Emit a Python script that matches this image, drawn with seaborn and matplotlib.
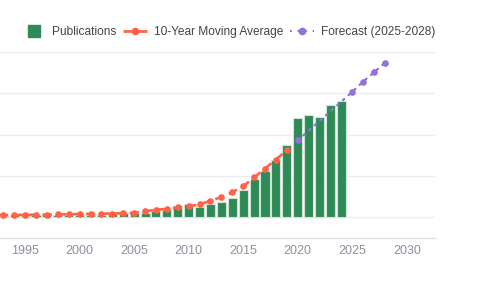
import matplotlib
matplotlib.use("Agg")
import matplotlib.pyplot as plt
from matplotlib.lines import Line2D
import seaborn as sns

# publications per year
years = list(range(1990, 2025))
pubs = [18, 20, 22, 20, 24, 22, 26, 24, 28, 30, 32, 30, 34, 36, 48, 55, 50, 80, 85,
        136, 165, 128, 165, 182, 236, 329, 465, 566, 690, 871, 1200, 1236, 1217, 1361, 1410]

ma_years = list(range(1990, 2020))
ma_vals = [24, 25, 26, 28, 28, 30, 31, 34, 35, 37, 40, 42, 44, 46, 50, 56, 75, 90, 102,
           120, 132, 156, 200, 245, 303, 375, 482, 590, 699, 811]

fc_years = [2020, 2025, 2026, 2027, 2028]
fc_vals = [931, 1518, 1642, 1754, 1871]

labels = ["Publications", "10-Year Moving Average", "Forecast (2025-2028)"]
xticks = [1995, 2000, 2005, 2010, 2015, 2020, 2025, 2030]

green = "#2e8b57"
orange = "#ff6347"
purple = "#9370db"

sns.set_style("white")
plt.rcParams["font.family"] = ["Liberation Sans", "DejaVu Sans"]

fig = plt.figure(figsize=(4.84, 3.0), dpi=100)
ax = fig.add_axes([0.0, 0.2067, 0.899, 0.62])

sns.barplot(x=years, y=pubs, native_scale=True, color=green, width=0.83,
            edgecolor="#cfe3d6", linewidth=0.8, saturation=1, ax=ax, zorder=2)
sns.lineplot(x=ma_years, y=ma_vals, color=orange, linewidth=1.9, linestyle=(0, (3.5, 2)),
             marker="o", markersize=4.8, markeredgewidth=0, ax=ax, zorder=3)
sns.lineplot(x=fc_years, y=fc_vals, color=purple, linewidth=1.6, linestyle=(0, (0.8, 2.6)),
             marker="o", markersize=4.8, markeredgewidth=0, ax=ax, zorder=4,
             dash_capstyle="round")

ax.set_xlim(1992.7, 2032.6)
ax.set_ylim(-250, 2000)
ax.set_yticks([0, 500, 1000, 1500, 2000])
ax.set_yticklabels([])
ax.set_xticks(xticks)
ax.set_xticklabels([str(t) for t in xticks])
ax.tick_params(axis="x", length=0, pad=5, labelsize=9, colors="#8c919c")
ax.tick_params(axis="y", length=0)
ax.grid(axis="y", color="#ececec", linewidth=1, zorder=0)
ax.set_axisbelow(True)
for s in ["top", "right", "left"]:
    ax.spines[s].set_visible(False)
ax.spines["bottom"].set_color("#dedede")
ax.spines["bottom"].set_linewidth(1)

handles = [
    Line2D([], [], color=green, marker="s", linestyle="none", markersize=9),
    Line2D([], [], color=orange, linewidth=2, linestyle=(0, (3.5, 2)), marker="o", markersize=4.5),
    Line2D([], [], color=purple, linewidth=1.6, linestyle=(0, (0.8, 2.6)), marker="o", markersize=4.5),
]
fig.legend(handles, labels, loc="center", bbox_to_anchor=(0.472, 0.893), ncol=3, frameon=False,
           fontsize=8.6, labelcolor="#444444", handlelength=2.0, handletextpad=0.55,
           columnspacing=0.6)

fig.savefig("out.png", dpi=100)
